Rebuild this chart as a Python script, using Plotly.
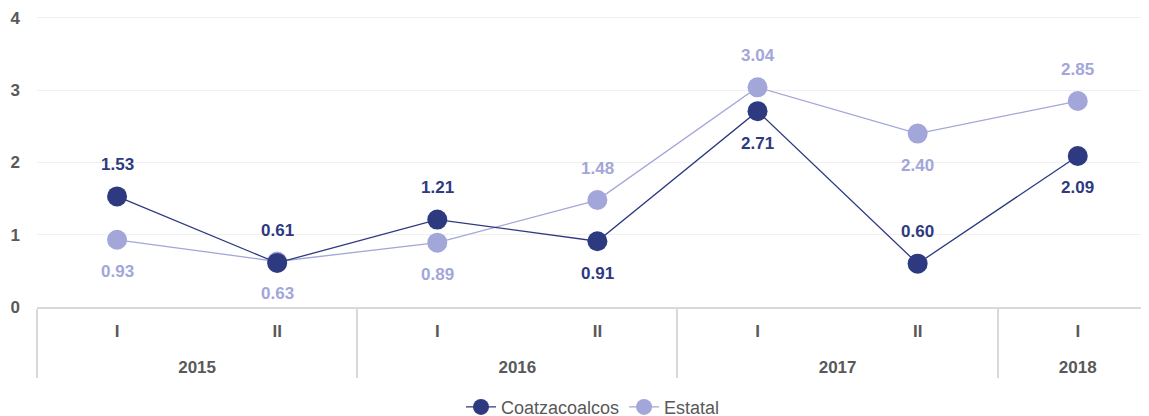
import plotly.graph_objects as go

years = ["2015", "2015", "2016", "2016", "2017", "2017", "2018"]
semesters = ["I", "II", "I", "II", "I", "II", "I"]
coatza = [1.53, 0.61, 1.21, 0.91, 2.71, 0.60, 2.09]
estatal = [0.93, 0.63, 0.89, 1.48, 3.04, 2.40, 2.85]
coatza_pos = ["above", "above", "above", "below", "below", "above", "below"]
estatal_pos = ["below", "below", "below", "above", "above", "below", "above"]

dark = "#2e3a80"
light = "#a3a6d9"
FONT = "Liberation Sans"

# year level gets a leading line break to push it lower, as in the reference
year_cats = ["<br>" + y for y in years]

fig = go.Figure()
fig.add_trace(go.Scatter(x=[year_cats, semesters], y=estatal, name="Estatal", mode="lines+markers",
                         line=dict(color=light, width=1.3), marker=dict(size=20, color=light)))
fig.add_trace(go.Scatter(x=[year_cats, semesters], y=coatza, name="Coatzacoalcos", mode="lines+markers",
                         line=dict(color=dark, width=1.3), marker=dict(size=20, color=dark)))

for vals, pos, col in [(coatza, coatza_pos, dark), (estatal, estatal_pos, light)]:
    for i, (v, p) in enumerate(zip(vals, pos)):
        fig.add_annotation(x=i, y=v, xref="x", yref="y", text=f"{v:.2f}", showarrow=False,
                           yshift=32 if p == "above" else -32,
                           font=dict(family=FONT, size=17, color=col, weight="bold"))

fig.update_layout(
    width=1141, height=416,
    margin=dict(l=29, r=0, t=2, b=117, autoexpand=False),
    plot_bgcolor="white", paper_bgcolor="white",
    showlegend=True,
    legend=dict(orientation="h", x=0.5, xanchor="center", y=-0.275, yanchor="top",
                traceorder="reversed",
                font=dict(family=FONT, size=18, color="#595959")),
    font=dict(family=FONT),
)
fig.update_xaxes(type="multicategory", range=[-0.5, 6.445], automargin=False,
                 showline=True, linecolor="#d9d9d9", linewidth=2,
                 dividercolor="#d9d9d9", dividerwidth=1.5,
                 ticklabelstandoff=8,
                 tickfont=dict(family=FONT, size=17, color="#595959", weight="bold"),
                 showgrid=False)
fig.update_yaxes(range=[0, 4.11], tickvals=[0, 1, 2, 3, 4], showgrid=True, gridcolor="#f0f0f0",
                 zeroline=False, showline=False, automargin=False,
                 tickfont=dict(family=FONT, size=17, color="#595959", weight="bold"), ticklabelstandoff=16)

fig.write_html("out.html")
